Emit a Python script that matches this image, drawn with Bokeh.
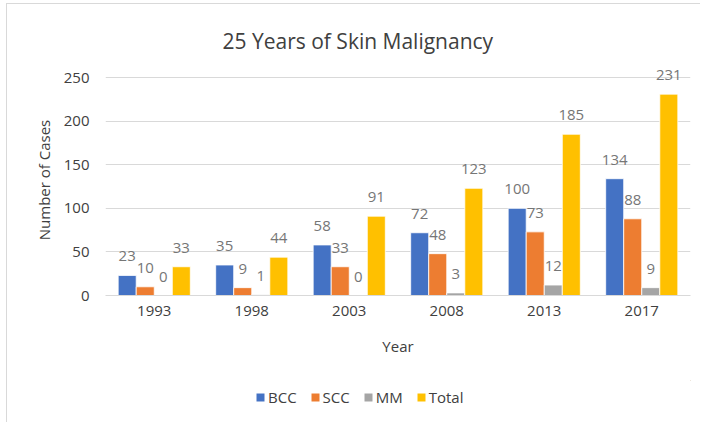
from bokeh.plotting import figure
from bokeh.layouts import column
from bokeh.models import ColumnDataSource, FactorRange, Range1d, Legend, LegendItem, FixedTicker
from bokeh.transform import dodge
from bokeh.core.properties import value
from bokeh.embed import file_html
from bokeh.resources import INLINE

years = ["1993", "1998", "2003", "2008", "2013", "2017"]
bcc = [23, 35, 58, 72, 100, 134]
scc = [10, 9, 33, 48, 73, 88]
mm = [0, 1, 0, 3, 12, 9]
total = [33, 44, 91, 123, 185, 231]
series = ["BCC", "SCC", "MM", "Total"]
y_ticks = [0, 50, 100, 150, 200, 250]

colors = ["#4472C4", "#ED7D31", "#A5A5A5", "#FFC000"]
offsets = [-0.2775, -0.0925, 0.0925, 0.2775]
FONT = "Open Sans"

src = ColumnDataSource(dict(year=years, BCC=bcc, SCC=scc, MM=mm, Total=total,
                            BCC_t=[str(v) for v in bcc], SCC_t=[str(v) for v in scc],
                            MM_t=[str(v) for v in mm], Total_t=[str(v) for v in total]))

p = figure(width=693, height=376, x_range=FactorRange(*years), y_range=Range1d(0, 265),
           output_backend="svg", toolbar_location=None,
           min_border_left=98, min_border_right=10, min_border_top=60, min_border_bottom=85)

p.title.text = "25 Years of Skin Malignancy"
p.title.align = "left"
p.title.offset = 117
p.title.text_font = FONT
p.title.text_font_size = "21px"
p.title.text_font_style = "normal"
p.title.text_color = "#404040"
p.title.standoff = 20

for s, c, off in zip(series, colors, offsets):
    p.vbar(x=dodge("year", off, range=p.x_range), top=s, width=0.185, source=src,
           fill_color=c, line_color="white", line_width=0.8)
    p.text(x=dodge("year", off, range=p.x_range), y=s, text=s + "_t", source=src,
           text_align="center", text_baseline="middle", y_offset=-19,
           text_font=value(FONT), text_font_size="15px", text_color="#767676")

p.outline_line_color = None
p.xgrid.grid_line_color = None
p.ygrid.grid_line_color = "#D9D9D9"
p.ygrid.grid_line_width = 1
p.yaxis.ticker = FixedTicker(ticks=y_ticks)

for ax in (p.xaxis[0], p.yaxis[0]):
    ax.major_tick_line_color = None
    ax.minor_tick_line_color = None
    ax.major_label_text_font = FONT
    ax.major_label_text_font_size = "15px"
    ax.major_label_text_color = "#404040"
    ax.axis_label_text_font = FONT
    ax.axis_label_text_font_size = "15px"
    ax.axis_label_text_font_style = "normal"
    ax.axis_label_text_color = "#404040"

p.xaxis.axis_line_color = "#D9D9D9"
p.yaxis.axis_line_color = None
p.xaxis.axis_label = "Year"
p.yaxis.axis_label = "Number of Cases"
p.xaxis.major_label_standoff = 4
p.xaxis.axis_label_standoff = 17
p.yaxis.major_label_standoff = 10
p.yaxis.axis_label_standoff = 7

# legend strip
lf = figure(width=693, height=42, x_range=Range1d(0, 1), y_range=Range1d(0, 1), title=None,
            output_backend="svg", toolbar_location=None, min_border=0,
            x_axis_location=None, y_axis_location=None)
lf.grid.visible = False
lf.outline_line_color = None
items = []
for s, c in zip(series, colors):
    r = lf.vbar(x=[10], top=[5], bottom=[4], width=0.1, fill_color=c, line_color=None)
    items.append(LegendItem(label=s, renderers=[r]))
legend = Legend(items=items, orientation="horizontal", location=(150, 15),
                glyph_width=10, glyph_height=10, label_standoff=3, spacing=13,
                label_text_font=FONT, label_text_font_size="15px", label_text_color="#404040",
                border_line_color=None, background_fill_alpha=0, margin=0, padding=0)
lf.add_layout(legend, "center")

layout = column(p, lf, spacing=0)
layout.margin = (3, 0, 0, 6)
layout.styles = {"border-top": "1px solid #D9D9D9", "border-left": "1px solid #D9D9D9"}

open("out.html", "w").write(file_html(layout, INLINE))
